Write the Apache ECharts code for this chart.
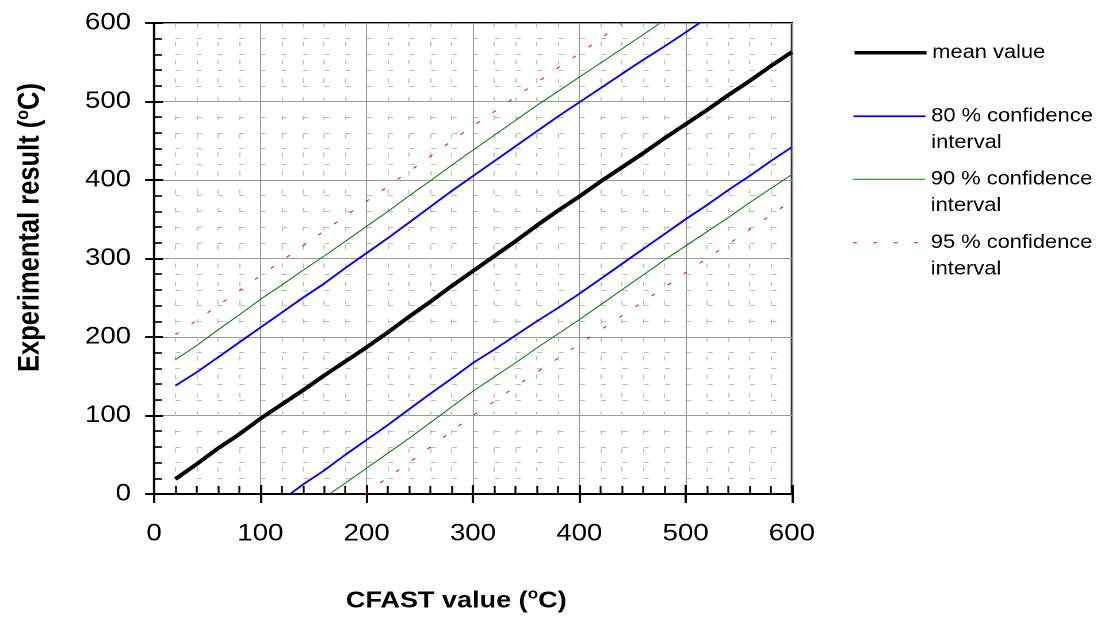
<!DOCTYPE html>
<html>
<head>
<meta charset="utf-8">
<script src="https://cdn.jsdelivr.net/npm/echarts@6/dist/echarts.min.js"></script>
<style>
  html, body { margin: 0; padding: 0; background: #fff; overflow: hidden; }
  #wrap { width: 1101px; height: 623px; overflow: hidden; }
  /* the drawing is laid out narrow and widened horizontally */
  #chart { width: 957px; height: 623px; transform: scaleX(1.1505); transform-origin: 0 0; }
</style>
</head>
<body>
<div id="wrap"><div id="chart"></div></div>
<script>
// Axis range (°C) shared by both axes
const axisMin = 0;
const axisMax = 600;
const axisStep = 100;

// Legend entries
const legendNames = ['mean value', '80 % confidence interval', '90 % confidence interval', '95 % confidence interval'];

// [CFAST value, experimental result] pairs
const meanLine = [[20,19],[40,38],[60,58],[80,76],[100,96],[120,114],[140,132],[160,151],[180,169],[200,187],[220,206],[240,226],[260,245],[280,265],[300,284],[320,303],[340,322],[360,342],[380,361],[400,379],[420,398],[440,416],[460,434],[480,453],[500,471],[520,489],[540,508],[560,526],[580,545],[600,563]];
const upper80 = [[20,138],[40,155],[60,174],[80,193],[100,212],[120,231],[140,250],[160,268],[180,288],[200,307],[220,326],[240,346],[260,366],[280,386],[300,405],[320,424],[340,443],[360,462],[380,481],[400,499],[420,517],[440,535],[460,553],[480,570],[500,588],[513,600]];
const lower80 = [[128,0],[140,12],[160,30],[180,50],[200,69],[220,88],[240,108],[260,128],[280,147],[300,167],[320,184],[340,202],[360,220],[380,237],[400,255],[420,274],[440,293],[460,312],[480,331],[500,350],[520,368],[540,387],[560,405],[580,424],[600,442]];
const upper90 = [[20,171],[40,189],[60,209],[80,228],[100,248],[120,266],[140,285],[160,303],[180,322],[200,341],[220,360],[240,380],[260,399],[280,419],[300,438],[320,457],[340,476],[360,495],[380,513],[400,531],[420,549],[440,567],[460,585],[476,600]];
const lower90 = [[165,0],[180,14],[200,33],[220,52],[240,71],[260,91],[280,111],[300,131],[320,149],[340,167],[360,186],[380,204],[400,222],[420,241],[440,260],[460,279],[480,298],[500,316],[520,334],[540,352],[560,371],[580,389],[600,407]];
const upper95 = [[20,203],[40,221],[60,240],[80,259],[100,278],[120,297],[140,316],[160,335],[180,354],[200,373],[220,392],[240,411],[260,430],[280,450],[300,469],[320,487],[340,506],[360,524],[380,543],[400,561],[420,580],[440,600]];
const lower95 = [[198,0],[220,21],[240,40],[260,60],[280,80],[300,100],[320,118],[340,137],[360,155],[380,173],[400,191],[420,209],[440,227],[460,245],[480,263],[500,282],[520,300],[540,318],[560,337],[580,355],[600,374]];

const FONT = 'Arial, "Liberation Sans", sans-serif';
const chart = echarts.init(document.getElementById('chart'), null, { renderer: 'canvas', devicePixelRatio: 2 });

function supStyle(size) {
  return { sup: { fontSize: size, fontWeight: 'bold', fontFamily: FONT, color: '#000', verticalAlign: 'top', lineHeight: size } };
}

function valueAxis(extra) {
  return Object.assign({
    type: 'value',
    min: axisMin,
    max: axisMax,
    interval: axisStep,
    gridIndex: 0
  }, extra);
}

// main axes: line, inner ticks, labels, grid lines
function mainAxis(tickLen, minorLen, labelMargin, name, nameGap, nameStyle) {
  return valueAxis({
    axisLine: { show: true, onZero: false, lineStyle: { color: '#000', width: 2 } },
    axisTick: { show: true, inside: true, length: tickLen, lineStyle: { color: '#000', width: 2 } },
    minorTick: { show: true, splitNumber: 5, length: minorLen, lineStyle: { color: '#000', width: 1.6 } },
    axisLabel: { fontSize: 24, color: '#000', fontFamily: FONT, margin: labelMargin },
    splitLine: { show: true, lineStyle: { color: '#9a9a9a', width: 1 } },
    minorSplitLine: { show: true, lineStyle: { color: '#bcbcbc', width: 1, type: [4.5, 14] } },
    name: name,
    nameLocation: 'middle',
    nameGap: nameGap,
    nameTextStyle: Object.assign({ fontWeight: 'bold', color: '#000', fontFamily: FONT }, nameStyle)
  });
}

// companion axes: the outer half of the major ticks
function outerTickAxis(position, tickLen) {
  return valueAxis({
    position: position,
    axisLine: { show: false },
    axisTick: { show: true, inside: false, length: tickLen, lineStyle: { color: '#000', width: 2 } },
    axisLabel: { show: false },
    splitLine: { show: false }
  });
}

const xMain = mainAxis(9, 8, 28, 'CFAST value ({sup|o}C)', 93,
  { fontSize: 23.5, lineHeight: 28, padding: [0, 29, 0, 0], rich: supStyle(15) });
const yMain = mainAxis(7.8, 7, 20, 'Experimental result ({sup|o}C)', 93,
  { fontSize: 25.5, lineHeight: 29, padding: [0, 0, 0, 62], rich: supStyle(16) });
yMain.nameRotate = 90;

function lineSeries(name, data, color, width, type, z) {
  return {
    type: 'line',
    name: name,
    data: data,
    showSymbol: false,
    symbol: 'none',
    smooth: false,
    clip: true,
    z: z,
    lineStyle: { color: color, width: width, type: type },
    itemStyle: { color: color },
    emphasis: { disabled: true }
  };
}

// one legend block per entry; two-line labels get a blank lead line so the
// sample line sits level with the first text line
function legendItem(name, top, lineWidth, twoLines) {
  return {
    show: true,
    left: 740.9,
    top: top,
    padding: 0,
    orient: 'vertical',
    itemWidth: 62.6,
    itemHeight: 14,
    selectedMode: false,
    data: [name],
    itemStyle: { opacity: 0 },
    lineStyle: { width: lineWidth },
    formatter: n => twoLines ? '\u00a0\n' + n.replace(' interval', '\ninterval') : n,
    textStyle: { fontSize: 19, color: '#000', fontFamily: FONT, lineHeight: 26.5 }
  };
}

chart.setOption({
  animation: false,
  backgroundColor: '#fff',
  grid: {
    left: 133.9, top: 23, width: 554.4, height: 471,
    show: true, borderColor: '#000', borderWidth: 2, backgroundColor: 'transparent'
  },
  xAxis: [xMain, outerTickAxis('bottom', 9)],
  yAxis: [yMain, outerTickAxis('left', 7.8)],
  legend: [
    legendItem(legendNames[0], 39.5, 3.6, false),
    legendItem(legendNames[1], 76.5, 1.8, true),
    legendItem(legendNames[2], 139.5, 1, true),
    legendItem(legendNames[3], 203, 1, true)
  ],
  series: [
    lineSeries(legendNames[3], upper95, '#ff0000', 1, [3.5, 14.2], 2),
    lineSeries(legendNames[3], lower95, '#ff0000', 1, [3.5, 14.2], 2),
    lineSeries(legendNames[2], upper90, '#008000', 1, 'solid', 3),
    lineSeries(legendNames[2], lower90, '#008000', 1, 'solid', 3),
    lineSeries(legendNames[1], upper80, '#0000ff', 1.8, 'solid', 4),
    lineSeries(legendNames[1], lower80, '#0000ff', 1.8, 'solid', 4),
    lineSeries(legendNames[0], meanLine, '#000000', 3.8, 'solid', 5)
  ]
});
</script>
</body>
</html>
